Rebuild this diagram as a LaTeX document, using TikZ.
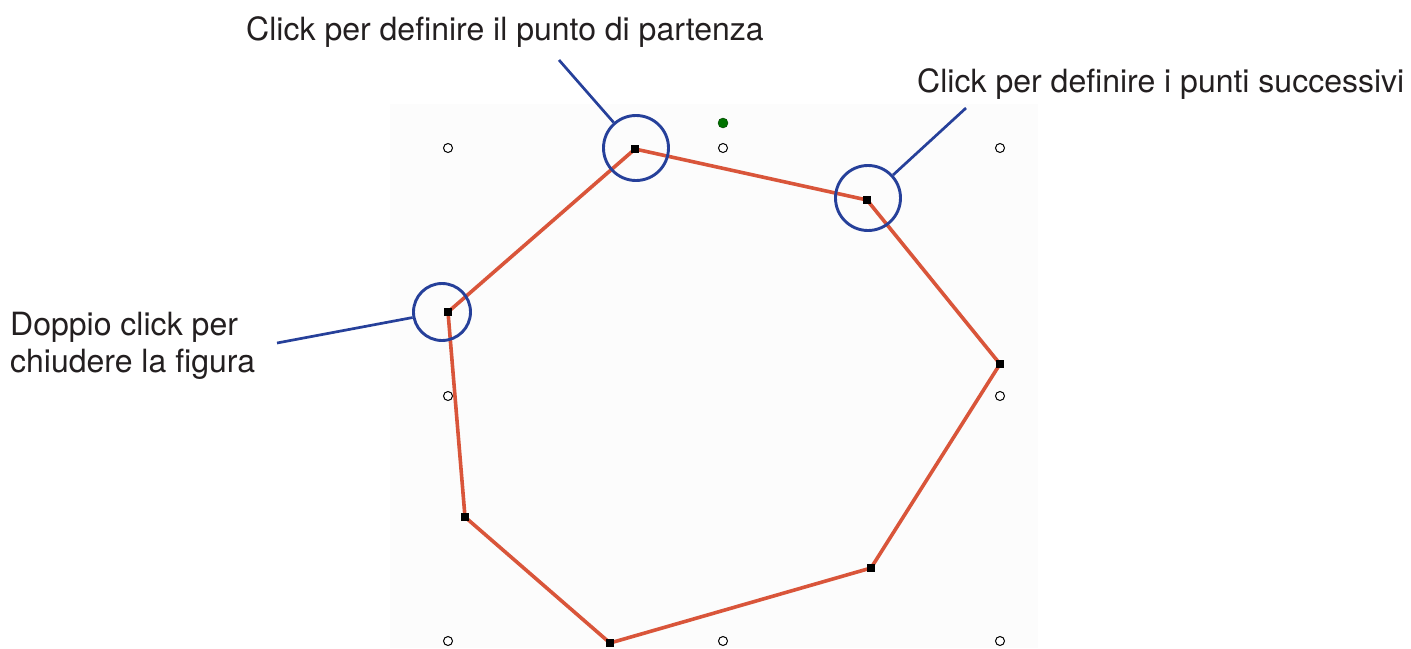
\documentclass[tikz,border=0pt]{standalone}
\usepackage{fontspec}
\setmainfont{TeX Gyre Heros}
\begin{document}
\begin{tikzpicture}[x=1pt,y=-1pt,
  lbl/.style={anchor=base west,inner sep=0pt,text=txtgray,font=\fontsize{32}{36}\selectfont},
  vtx/.style={fill=black,rectangle,minimum size=8.5pt,inner sep=0pt},
  handle/.style={draw=black,fill=white,circle,minimum size=9pt,inner sep=0pt,line width=1pt},
  ring/.style={draw=ringblue,circle,line width=2.9pt,inner sep=0pt},
  leader/.style={draw=ringblue,line width=2.7pt},
  edge/.style={draw=edgered,line width=3.6pt,line join=round}]
\definecolor{txtgray}{HTML}{231F20}
\definecolor{ringblue}{HTML}{26409A}
\definecolor{edgered}{HTML}{D9553A}
\definecolor{bggray}{HTML}{FCFCFC}
\useasboundingbox (0,0) rectangle (1411,648);
\fill[bggray] (390,104) rectangle (1038,648);
% handles
\node[handle] (h1) at (448,148) {};
\node[handle] (h2) at (723,148) {};
\node[handle] (h3) at (1000,148) {};
\node[handle] (h4) at (448,396) {};
\node[handle] (h5) at (1000,396) {};
\node[handle] (h6) at (448,641) {};
\node[handle] (h7) at (723,641) {};
\node[handle] (h8) at (1000,641) {};
\node[circle,fill=green!45!black,draw=green!25!black,minimum size=10pt,inner sep=0pt] (rot) at (723,123) {};
% polygon vertices
\coordinate (p1) at (635,149);
\coordinate (p2) at (867,200);
\coordinate (p3) at (1000,364);
\coordinate (p4) at (871,568);
\coordinate (p5) at (610,643);
\coordinate (p6) at (465,517);
\coordinate (p7) at (448,312);
\draw[edge] (p1) -- (p2) -- (p3) -- (p4) -- (p5) -- (p6) -- (p7) -- cycle;
\foreach \p in {p1,p2,p3,p4,p5,p6,p7} \node[vtx] (v\p) at (\p) {};
% rings
\node[ring,minimum size=65pt] (c1) at (636,148) {};
\node[ring,minimum size=65pt] (c2) at (868,198) {};
\node[ring,minimum size=57pt] (c3) at (442,312) {};
% labels
\node[lbl] (t1) at (246,40) {Click per definire il punto di partenza};
\node[lbl] (t2) at (917,92) {Click per definire i punti successivi};
\node[lbl] (t3) at (10,335) {Doppio click per};
\node[lbl] (t4) at (10,372) {chiudere la figura};
% leader lines
\coordinate (l1) at (559,60);
\coordinate (l2) at (966,108);
\coordinate (l3) at (277,343);
\draw[leader] (l1) -- (c1);
\draw[leader] (l2) -- (c2);
\draw[leader] (l3) -- (c3);
\end{tikzpicture}
\end{document}
